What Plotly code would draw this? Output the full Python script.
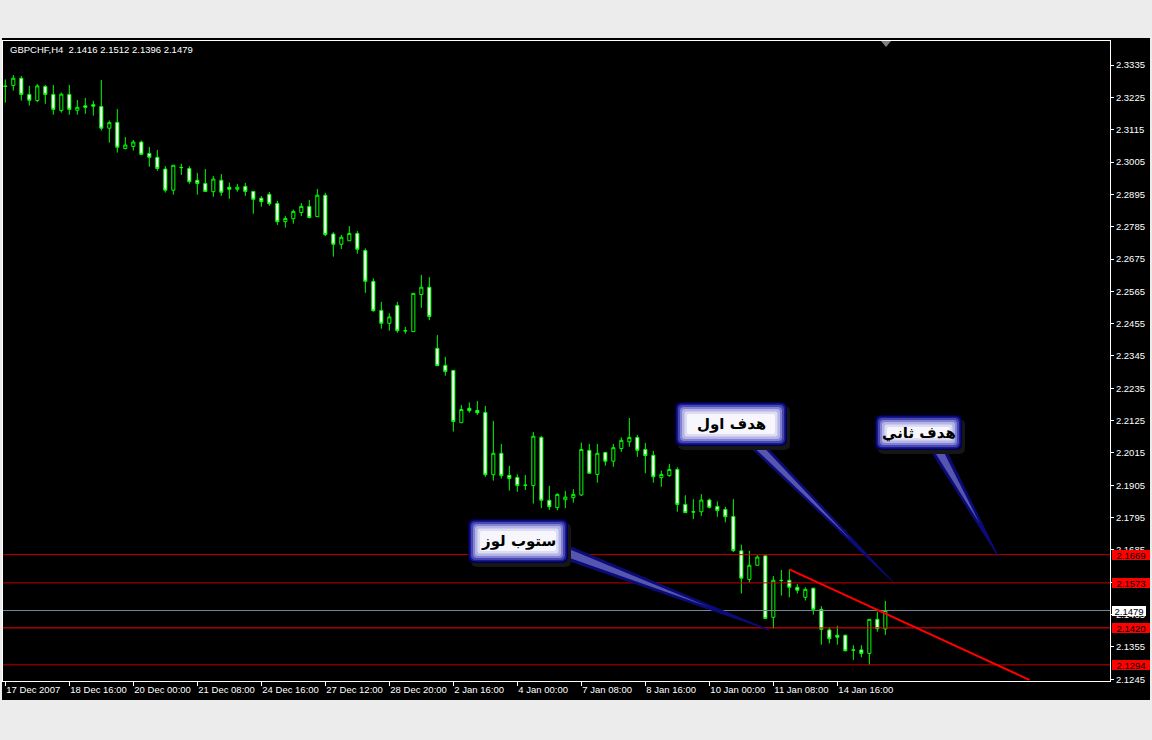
import plotly.graph_objects as go

# ---------------- data ----------------
symbol_title = "GBPCHF,H4  2.1416 2.1512 2.1396 2.1479"

bar_index = list(range(111))

opens = [2.3264, 2.3265, 2.3290, 2.3235, 2.3214, 2.3262, 2.3235, 2.3180, 2.3235, 2.3181,
         2.3196, 2.3200, 2.3194, 2.3120, 2.3140, 2.3051, 2.3058, 2.3073, 2.3034, 2.3021,
         2.2981, 2.2909, 2.2987, 2.2983, 2.2943, 2.2932, 2.2904, 2.2943, 2.2919, 2.2912,
         2.2922, 2.2905, 2.2882, 2.2895, 2.2864, 2.2802, 2.2812, 2.2833, 2.2854, 2.2819,
         2.2892, 2.2760, 2.2725, 2.2737, 2.2762, 2.2704, 2.2599, 2.2500, 2.2456, 2.2517,
         2.2430, 2.2428, 2.2554, 2.2579, 2.2371, 2.2313, 2.2296, 2.2118, 2.2167, 2.2160,
         2.2153, 2.1941, 2.2014, 2.1939, 2.1932, 2.1906, 2.1904, 2.2068, 2.1854, 2.1829,
         2.1856, 2.1863, 2.1872, 2.2024, 2.1942, 2.2017, 2.1987, 2.2030, 2.2053, 2.2068,
         2.2027, 2.2007, 2.1931, 2.1938, 2.1959, 2.1840, 2.1815, 2.1815, 2.1855, 2.1833,
         2.1823, 2.1799, 2.1682, 2.1585, 2.1633, 2.1665, 2.1456, 2.1582, 2.1582, 2.1558,
         2.1524, 2.1555, 2.1483, 2.1413, 2.1395, 2.1395, 2.1345, 2.1345, 2.1333, 2.1449,
         2.1416]
highs = [2.3286, 2.3301, 2.3298, 2.3264, 2.3270, 2.3267, 2.3267, 2.3241, 2.3267, 2.3216,
         2.3223, 2.3213, 2.3284, 2.3146, 2.3185, 2.3090, 2.3080, 2.3078, 2.3056, 2.3046,
         2.2991, 2.2994, 2.2999, 2.2991, 2.2968, 2.2981, 2.2957, 2.2964, 2.2935, 2.2930,
         2.2934, 2.2906, 2.2889, 2.2903, 2.2873, 2.2822, 2.2843, 2.2865, 2.2876, 2.2913,
         2.2900, 2.2766, 2.2757, 2.2787, 2.2770, 2.2711, 2.2609, 2.2529, 2.2490, 2.2529,
         2.2444, 2.2559, 2.2621, 2.2613, 2.2416, 2.2342, 2.2297, 2.2178, 2.2187, 2.2192,
         2.2175, 2.2124, 2.2046, 2.1971, 2.1942, 2.1940, 2.2086, 2.2073, 2.1903, 2.1878,
         2.1886, 2.1892, 2.2050, 2.2046, 2.2046, 2.2018, 2.2046, 2.2068, 2.2134, 2.2076,
         2.2049, 2.2022, 2.1955, 2.1978, 2.1966, 2.1871, 2.1858, 2.1875, 2.1860, 2.1850,
         2.1832, 2.1858, 2.1703, 2.1682, 2.1667, 2.1666, 2.1596, 2.1617, 2.1619, 2.1569,
         2.1558, 2.1556, 2.1494, 2.1422, 2.1427, 2.1397, 2.1361, 2.1361, 2.1450, 2.1475,
         2.1512]
lows = [2.3207, 2.3248, 2.3214, 2.3197, 2.3209, 2.3203, 2.3166, 2.3173, 2.3166, 2.3166,
        2.3169, 2.3163, 2.3112, 2.3071, 2.3037, 2.3048, 2.3044, 2.3029, 2.2989, 2.2975,
        2.2901, 2.2894, 2.2961, 2.2931, 2.2894, 2.2904, 2.2887, 2.2890, 2.2880, 2.2904,
        2.2890, 2.2829, 2.2853, 2.2856, 2.2791, 2.2782, 2.2795, 2.2821, 2.2813, 2.2818,
        2.2753, 2.2683, 2.2709, 2.2736, 2.2693, 2.2560, 2.2496, 2.2438, 2.2431, 2.2424,
        2.2421, 2.2427, 2.2509, 2.2467, 2.2311, 2.2278, 2.2088, 2.2117, 2.2152, 2.2144,
        2.1934, 2.1921, 2.1928, 2.1887, 2.1883, 2.1889, 2.1843, 2.1827, 2.1821, 2.1820,
        2.1827, 2.1846, 2.1869, 2.1945, 2.1914, 2.1972, 2.1968, 2.2019, 2.2036, 2.2002,
        2.1946, 2.1914, 2.1900, 2.1934, 2.1815, 2.1811, 2.1790, 2.1801, 2.1826, 2.1798,
        2.1779, 2.1678, 2.1537, 2.1574, 2.1632, 2.1451, 2.1418, 2.1530, 2.1524, 2.1537,
        2.1513, 2.1465, 2.1363, 2.1367, 2.1363, 2.1340, 2.1311, 2.1320, 2.1294, 2.1407,
        2.1396]
closes = [2.3262, 2.3290, 2.3235, 2.3215, 2.3264, 2.3235, 2.3184, 2.3236, 2.3184, 2.3191,
          2.3191, 2.3195, 2.3120, 2.3139, 2.3055, 2.3063, 2.3073, 2.3031, 2.3021, 2.2983,
          2.2909, 2.2994, 2.2986, 2.2938, 2.2932, 2.2905, 2.2947, 2.2902, 2.2912, 2.2919,
          2.2905, 2.2878, 2.2870, 2.2863, 2.2802, 2.2813, 2.2837, 2.2854, 2.2816, 2.2892,
          2.2758, 2.2725, 2.2749, 2.2762, 2.2708, 2.2599, 2.2499, 2.2456, 2.2478, 2.2431,
          2.2431, 2.2558, 2.2579, 2.2479, 2.2312, 2.2292, 2.2122, 2.2163, 2.2159, 2.2152,
          2.1941, 2.2014, 2.1938, 2.1928, 2.1904, 2.1905, 2.2072, 2.1854, 2.1832, 2.1874,
          2.1865, 2.1874, 2.2027, 2.1946, 2.2014, 2.1987, 2.2033, 2.2058, 2.2068, 2.2024,
          2.2006, 2.1934, 2.1942, 2.1959, 2.1840, 2.1812, 2.1814, 2.1855, 2.1830, 2.1819,
          2.1798, 2.1683, 2.1589, 2.1633, 2.1661, 2.1452, 2.1582, 2.1581, 2.1558, 2.1548,
          2.1551, 2.1483, 2.1415, 2.1383, 2.1388, 2.1342, 2.1344, 2.1333, 2.1449, 2.1417,
          2.1479]

time_tick_pos = [0, 8, 16, 24, 32, 40, 48, 56, 64, 72, 80, 88, 96, 104]
time_tick_text = ["17 Dec 2007", "18 Dec 16:00", "20 Dec 00:00", "21 Dec 08:00",
                  "24 Dec 16:00", "27 Dec 12:00", "28 Dec 20:00", "2 Jan 16:00",
                  "4 Jan 00:00", "7 Jan 08:00", "8 Jan 16:00", "10 Jan 00:00",
                  "11 Jan 08:00", "14 Jan 16:00"]

price_ticks = [2.3335, 2.3225, 2.3115, 2.3005, 2.2895, 2.2785, 2.2675, 2.2565, 2.2455,
               2.2345, 2.2235, 2.2125, 2.2015, 2.1905, 2.1795, 2.1685, 2.1575, 2.1465,
               2.1355, 2.1245]

red_levels = [2.1669, 2.1573, 2.1420, 2.1294]
bid_level = 2.1479

trend_start = (98, 2.1619)
trend_end = (128, 2.1243)

callout_texts = ["هدف اول", "هدف ثاني", "ستوب لوز"]

# ---------------- geometry helpers (pixel -> paper) ----------------
W, H = 1152, 740
ML, MR, MT, MB = 3, 42, 41, 59
PW = W - ML - MR
PH = H - MT - MB


def px(x):
    return (x - ML) / PW


def py(y):
    return (H - MB - y) / PH


def rrect_path(x0, y0, x1, y1, r):
    pts = [
        ("M", [(x0 + r, y0)]),
        ("L", [(x1 - r, y0)]),
        ("Q", [(x1, y0), (x1, y0 + r)]),
        ("L", [(x1, y1 - r)]),
        ("Q", [(x1, y1), (x1 - r, y1)]),
        ("L", [(x0 + r, y1)]),
        ("Q", [(x0, y1), (x0, y1 - r)]),
        ("L", [(x0, y0 + r)]),
        ("Q", [(x0, y0), (x0 + r, y0)]),
    ]
    s = ""
    for cmd, ps in pts:
        s += cmd + " ".join("%.5f,%.5f" % (px(a), py(b)) for a, b in ps) + " "
    return s + "Z"


def poly_path(points):
    s = "M" + " L".join("%.5f,%.5f" % (px(a), py(b)) for a, b in points)
    return s + " Z"


# ---------------- figure ----------------
fig = go.Figure()

fig.add_trace(go.Candlestick(
    x=bar_index, open=opens, high=highs, low=lows, close=closes,
    increasing=dict(line=dict(color="#00ff00", width=1), fillcolor="#000000"),
    decreasing=dict(line=dict(color="#00ff00", width=1), fillcolor="#ffffff"),
    whiskerwidth=0, showlegend=False, hoverinfo="skip",
))

shapes = []
# black chart window
shapes.append(dict(type="rect", xref="paper", yref="paper", x0=px(2), x1=px(1150),
                   y0=py(700), y1=py(38), fillcolor="#000000", line=dict(width=0),
                   layer="below"))

# horizontal levels
for lv in red_levels:
    shapes.append(dict(type="line", xref="paper", yref="y", x0=0, x1=1, y0=lv, y1=lv,
                       line=dict(color="#ff0000" if lv == 2.1420 else "#c80000", width=1)))
shapes.append(dict(type="line", xref="paper", yref="y", x0=0, x1=1, y0=bid_level,
                   y1=bid_level, line=dict(color="#778899", width=1)))

# trend line
shapes.append(dict(type="line", xref="x", yref="y", x0=trend_start[0], y0=trend_start[1],
                   x1=trend_end[0], y1=trend_end[1], line=dict(color="#ff0000", width=2)))

# chart-shift marker
shapes.append(dict(type="path", xref="paper", yref="paper",
                   path=poly_path([(881, 41), (891, 41), (886, 47)]),
                   fillcolor="#808080", line=dict(width=0)))

# callouts: pointers then boxes
pointers = [
    ((747, 444), (764, 444), (893, 582)),
    ((929, 448), (945, 448), (998, 556)),
    ((564, 544), (564, 559), (769, 630)),
]
for a, b, tip in pointers:
    shapes.append(dict(type="path", xref="paper", yref="paper",
                       path=poly_path([a, b, tip]), fillcolor="#0c0c78",
                       line=dict(color="#0c0c78", width=1)))
    mx, my = (a[0] + b[0]) / 2, (a[1] + b[1]) / 2
    ia = (a[0] * 0.6 + mx * 0.4, a[1] * 0.6 + my * 0.4)
    ib = (b[0] * 0.6 + mx * 0.4, b[1] * 0.6 + my * 0.4)
    itip = (mx + 0.7 * (tip[0] - mx), my + 0.7 * (tip[1] - my))
    shapes.append(dict(type="path", xref="paper", yref="paper",
                       path=poly_path([ia, ib, itip]), fillcolor="#5656b0",
                       line=dict(width=0)))

boxes = [
    (675, 402, 787, 446),
    (875, 415, 962, 450),
    (468, 519, 568, 563),
]
layers = [(0, "#000050"), (1.5, "#1a1a90"), (3, "#4848b4"), (5, "#8282d0"),
          (7, "#b4b4e6"), (9.5, "#dcdcf4"), (12, "#f6f6fc")]
for (x0, y0, x1, y1) in boxes:
    shapes.append(dict(type="path", xref="paper", yref="paper",
                       path=rrect_path(x0 + 3, y0 + 4, x1 + 3, y1 + 4, 6),
                       fillcolor="#161616", line=dict(width=0)))
    for inset, col in layers:
        r = max(6 - inset * 0.4, 2)
        shapes.append(dict(type="path", xref="paper", yref="paper",
                           path=rrect_path(x0 + inset, y0 + inset, x1 - inset, y1 - inset, r),
                           fillcolor=col, line=dict(width=0)))

annotations = []
# symbol header
annotations.append(dict(xref="paper", yref="paper", x=px(8), y=py(50), xanchor="left",
                        yanchor="middle", text=symbol_title, showarrow=False,
                        font=dict(family="Liberation Sans", size=9.5, color="#ffffff")))

# price labels at the right scale
for lv in red_levels:
    annotations.append(dict(xref="paper", yref="y", x=1, xshift=2, y=lv, xanchor="left",
                            yanchor="middle", text="%.4f" % lv, showarrow=False,
                            bgcolor="#ff0000", width=38, height=10, borderpad=0,
                            borderwidth=0, align="center",
                            font=dict(family="Liberation Sans", size=9.5, color="#000000")))
annotations.append(dict(xref="paper", yref="y", x=1, xshift=2, y=bid_level, xanchor="left",
                        yanchor="middle", text="%.4f" % bid_level, showarrow=False,
                        bgcolor="#ffffff", width=34, height=10, borderpad=0, borderwidth=0,
                        align="center",
                        font=dict(family="Liberation Sans", size=9.5, color="#000000")))

# callout texts
for (x0, y0, x1, y1), txt in zip(boxes, callout_texts):
    annotations.append(dict(xref="paper", yref="paper", x=px((x0 + x1) / 2),
                            y=py((y0 + y1) / 2), xanchor="center", yanchor="middle",
                            text="<b>" + txt + "</b>", showarrow=False,
                            font=dict(family="DejaVu Sans", size=15, color="#000000")))

fig.update_layout(
    width=W, height=H,
    margin=dict(l=ML, r=MR, t=MT, b=MB, pad=0),
    paper_bgcolor="#ececec",
    plot_bgcolor="#000000",
    showlegend=False,
    shapes=shapes,
    annotations=annotations,
    boxgap=0.45,
    xaxis=dict(
        range=[-0.29, 138.08], rangeslider=dict(visible=False),
        tickvals=time_tick_pos, ticktext=time_tick_text, tickangle=0,
        ticks="outside", ticklen=4, tickcolor="#ffffff",
        ticklabelposition="outside right",
        tickfont=dict(family="Liberation Sans", size=9.5, color="#ffffff"),
        showline=True, linecolor="#ffffff", linewidth=1, mirror=True,
        showgrid=False, zeroline=False, fixedrange=True,
    ),
    yaxis=dict(
        side="right", range=[2.12392, 2.34167],
        tickvals=price_ticks, ticktext=["%.4f" % v for v in price_ticks],
        ticks="outside", ticklen=3, tickcolor="#ffffff",
        tickfont=dict(family="Liberation Sans", size=9.5, color="#ffffff"),
        showline=True, linecolor="#ffffff", linewidth=1, mirror=True,
        showgrid=False, zeroline=False, fixedrange=True,
    ),
)

fig.write_html("out.html", config=dict(displayModeBar=False),
               post_script="document.body.style.margin='0';document.body.style.padding='0';")
